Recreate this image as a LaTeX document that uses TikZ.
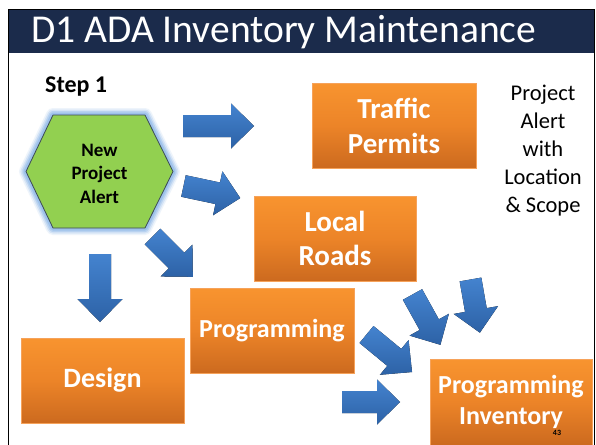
\documentclass[tikz,border=0pt]{standalone}
\usepackage{fontspec}
\setmainfont{Carlito}
\usetikzlibrary{calc}

\definecolor{navy}{HTML}{1B2B4B}
\definecolor{orangetop}{HTML}{F8942F}
\definecolor{orangemid}{HTML}{EC8428}
\definecolor{orangebot}{HTML}{CC6A1F}
\definecolor{orangeedge}{HTML}{F6A25A}
\definecolor{arrowlight}{HTML}{4483CF}
\definecolor{arrowdark}{HTML}{2D62A6}
\definecolor{hexgreen}{HTML}{92D050}
\definecolor{hexedge}{HTML}{3C4A5A}
\definecolor{glowblue}{HTML}{8DB8E8}

\tikzset{
  x=1pt, y=-1pt,
  box/.style={draw=orangeedge, line width=0.8pt,
    top color=orangetop, bottom color=orangebot, middle color=orangemid,
    inner sep=0pt, text=white, align=center, anchor=center},
  arrowfill/.style={top color=arrowlight, bottom color=arrowdark},
  pics/barrow/.style={code={
    \fill[arrowfill] (0,-11) -- ({#1-23},-11) -- ({#1-23},-22.5) -- (#1,0)
      -- ({#1-23},22.5) -- ({#1-23},11) -- (0,11) -- cycle;}},
}

\begin{document}
\begin{tikzpicture}
  \useasboundingbox (0,0) rectangle (596,444);
  \clip (0,0) rectangle (596,444);
  \fill[white] (0,0) rectangle (596,444);

  % slide frame and title bar
  \fill[navy] (8,9) rectangle (595,53);
  \draw[black, line width=1.6pt] (8.5,9.5) rectangle (594.5,470);
  \node[anchor=base west, text=white, inner sep=0pt,
        font=\fontsize{39.5}{44}\selectfont] (title) at (31,42) {D1 ADA Inventory Maintenance};

  % step label
  \node[anchor=base west, inner sep=0pt, font=\bfseries\fontsize{24}{28}\selectfont]
    (step) at (45,92) {Step 1};

  % hexagon with soft glow
  \coordinate (h1) at (26,171.5);
  \coordinate (h2) at (53,115);
  \coordinate (h3) at (145,115);
  \coordinate (h4) at (173,171.5);
  \coordinate (h5) at (145,228);
  \coordinate (h6) at (53,228);
  \foreach \w/\o in {14/0.15, 11/0.25, 8/0.4, 5/0.6} {
    \draw[glowblue, line width=\w pt, opacity=\o, line join=round]
      (h1) -- (h2) -- (h3) -- (h4) -- (h5) -- (h6) -- cycle;
  }
  \filldraw[fill=hexgreen, draw=hexedge, line width=0.8pt, line join=round]
    (h1) -- (h2) -- (h3) -- (h4) -- (h5) -- (h6) -- cycle;
  \node[font=\bfseries\fontsize{19}{23.5}\selectfont, align=center]
    (alert) at (99.5,173.5) {New\\Project\\Alert};

  % side note
  \node[font=\fontsize{22.5}{28}\selectfont, align=center]
    (note) at (543,151) {Project\\Alert\\with\\Location\\\& Scope};

  % orange boxes
  \node[box, minimum width=164pt, minimum height=85pt, font=\bfseries\fontsize{29}{35}\selectfont]
    (traffic) at (394,125.5) {Traffic\\Permits};
  \node[box, minimum width=162pt, minimum height=85pt, font=\bfseries\fontsize{29}{34}\selectfont]
    (local) at (335,238.5) {Local\\Roads};
  \node[box, minimum width=164pt, minimum height=85pt, font=\bfseries\fontsize{26}{30}\selectfont]
    (prog) at (272,330.5) {Programming};
  \node[box, minimum width=163pt, minimum height=85pt, font=\bfseries\fontsize{28}{32}\selectfont]
    (design) at (102.5,380.5) {Design};
  \node[box, minimum width=162pt, minimum height=86pt, font=\bfseries\fontsize{26}{31}\selectfont]
    (inventory) at (511,402) {Programming\\Inventory};
  \node[font=\bfseries\fontsize{8}{9}\selectfont, inner sep=0pt] (pagenum) at (557,433) {43};

  % block arrows
  \pic at (183,126) {barrow=71};
  \pic[rotate=-12] at (183.5,186) {barrow=58};
  \pic[rotate=-45] at (152.5,236.5) {barrow=57};
  \pic[rotate=-90] at (100,254) {barrow=68};
  \pic[rotate=-39.5] at (366.5,334.5) {barrow=59};
  \pic[rotate=-61] at (412.5,294.5) {barrow=57.5};
  \pic[rotate=-80] at (470.5,279.5) {barrow=54};
  \pic at (342,402) {barrow=58};
\end{tikzpicture}
\end{document}
